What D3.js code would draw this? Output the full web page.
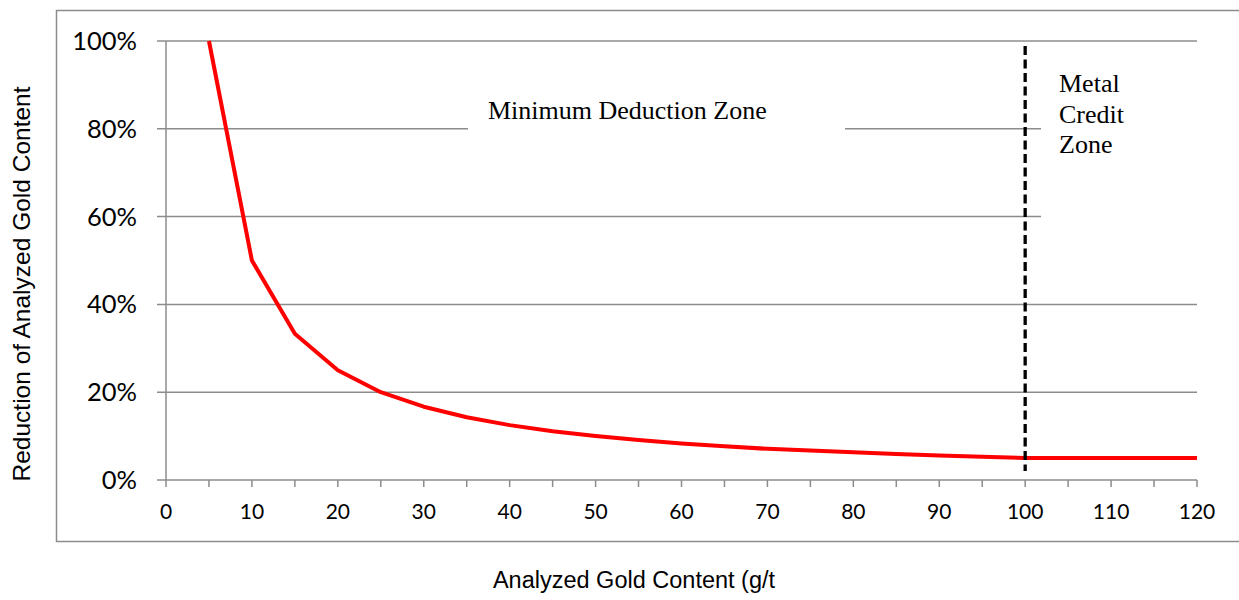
<!DOCTYPE html>
<meta charset="utf-8">
<script src="https://d3js.org/d3.v7.min.js"></script>
<style>
  body { margin: 0; background: #fff; }
</style>
<div id="chart"></div>
<script>

// values
var goldContent = [5, 10, 15, 20, 25, 30, 35, 40, 45, 50, 55, 60, 65, 70, 75, 80, 85, 90, 95, 100, 105, 110, 115, 120]
var reduction = [1.00, 0.50, 0.333, 0.25, 0.20, 0.167, 0.143, 0.125, 0.111, 0.10, 0.091, 0.083, 0.077, 0.071, 0.067, 0.063, 0.059, 0.056, 0.053, 0.05, 0.05, 0.05, 0.05, 0.05]
var xTicks = [0, 10, 20, 30, 40, 50, 60, 70, 80, 90, 100, 110, 120]
var xMinorTicks = d3.range(0, 121, 5)
var yTicks = [0, 0.2, 0.4, 0.6, 0.8, 1.0]
var creditStart = 100
var zoneLabel = "Minimum Deduction Zone"
var creditLabel = ["Metal", "Credit", "Zone"]

var data = goldContent.map(function(d, i) { return {x: d, y: reduction[i]} })

var W = 1239, H = 600
var margin = {top: 41, right: 42, bottom: 120, left: 166}

var svg = d3.select("#chart")
  .append("svg")
    .attr("width", W)
    .attr("height", H)

var x = d3.scaleLinear()
  .domain([0, 120])
  .range([margin.left, W - margin.right])

var y = d3.scaleLinear()
  .domain([0, 1])
  .range([H - margin.bottom, margin.top])

var grey = "#8c8c8c"

// outer chart border
svg.append("rect")
  .attr("x", 56.5)
  .attr("y", 10.5)
  .attr("width", W)
  .attr("height", 531)
  .attr("fill", "none")
  .attr("stroke", grey)
  .attr("stroke-width", 1.5)

// horizontal gridlines (they also act as the y tick marks)
svg.append("g")
  .selectAll("line")
  .data(yTicks)
  .enter()
  .append("line")
    .attr("x1", x(0) - 9)
    .attr("x2", x(120))
    .attr("y1", function(d) { return y(d) })
    .attr("y2", function(d) { return y(d) })
    .attr("stroke", grey)
    .attr("stroke-width", 1.5)

// y axis line
svg.append("line")
  .attr("x1", x(0)).attr("x2", x(0))
  .attr("y1", y(1)).attr("y2", y(0))
  .attr("stroke", grey)
  .attr("stroke-width", 1.5)

// y tick labels
svg.append("g")
  .selectAll("text")
  .data(yTicks)
  .enter()
  .append("text")
    .attr("x", 137)
    .attr("y", function(d) { return y(d) + 9 })
    .attr("text-anchor", "end")
    .style("font-family", "Lato, sans-serif")
    .style("font-size", "25.5px")
    .text(function(d) { return d3.format(".0%")(d) })

// x axis ticks (every 5)
svg.append("g")
  .selectAll("line")
  .data(xMinorTicks)
  .enter()
  .append("line")
    .attr("x1", function(d) { return x(d) })
    .attr("x2", function(d) { return x(d) })
    .attr("y1", y(0))
    .attr("y2", y(0) + 7)
    .attr("stroke", grey)
    .attr("stroke-width", 1.5)

svg.append("g")
  .selectAll("text")
  .data(xTicks)
  .enter()
  .append("text")
    .attr("x", function(d) { return x(d) })
    .attr("y", y(0) + 39)
    .attr("text-anchor", "middle")
    .style("font-family", "Lato, sans-serif")
    .style("font-size", "21px")
    .text(function(d) { return d })

// the reduction curve
svg.append("path")
  .datum(data)
  .attr("d", d3.line()
    .x(function(d) { return x(d.x) })
    .y(function(d) { return y(d.y) })
  )
  .attr("fill", "none")
  .attr("stroke", "#ff0000")
  .attr("stroke-width", 4)
  .attr("stroke-linejoin", "round")

// white boxes behind the zone labels
svg.append("rect")
  .attr("x", 468).attr("y", 92)
  .attr("width", 377).attr("height", 46)
  .attr("fill", "#fff")

svg.append("rect")
  .attr("x", 1041).attr("y", 55)
  .attr("width", 170).attr("height", 172)
  .attr("fill", "#fff")

// dashed boundary at 100 g/t
svg.append("line")
  .attr("x1", x(creditStart)).attr("x2", x(creditStart))
  .attr("y1", 46).attr("y2", 471)
  .attr("stroke", "#000")
  .attr("stroke-width", 3.3)
  .attr("stroke-dasharray", "9,4.5")

svg.append("text")
  .attr("x", 488)
  .attr("y", 119)
  .style("font-family", "'Liberation Serif', 'Times New Roman', serif")
  .style("font-size", "26px")
  .text(zoneLabel)

svg.append("g")
  .selectAll("text")
  .data(creditLabel)
  .enter()
  .append("text")
    .attr("x", 1059)
    .attr("y", function(d, i) { return 92 + i * 30.5 })
    .style("font-family", "'Liberation Serif', 'Times New Roman', serif")
    .style("font-size", "26px")
    .text(function(d) { return d })

// axis titles
svg.append("text")
  .attr("transform", "translate(30," + 284 + ") rotate(-90)")
  .attr("text-anchor", "middle")
  .style("font-family", "'Liberation Sans', Arial, sans-serif")
  .style("font-size", "24.5px")
  .text("Reduction of Analyzed Gold Content")

svg.append("text")
  .attr("x", 634)
  .attr("y", 588)
  .attr("text-anchor", "middle")
  .style("font-family", "'Liberation Sans', Arial, sans-serif")
  .style("font-size", "23.5px")
  .text("Analyzed Gold Content (g/t")

</script>
